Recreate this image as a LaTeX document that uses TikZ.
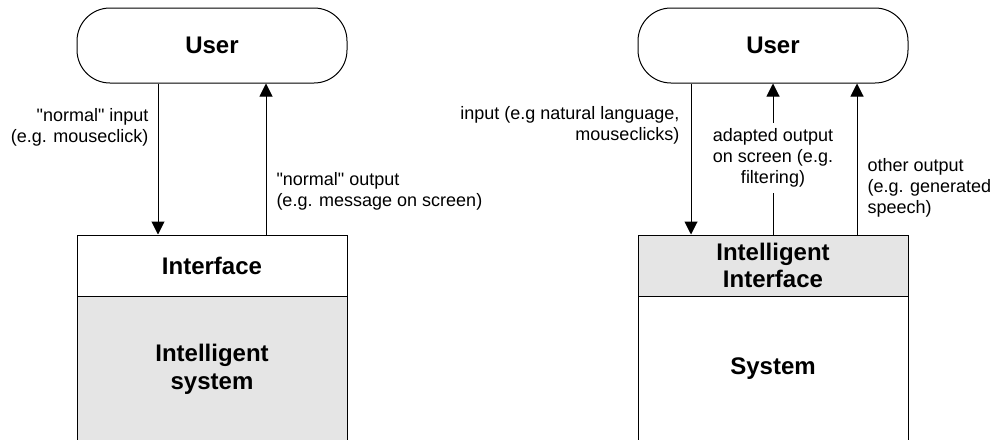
\documentclass[tikz,border=0pt]{standalone}
\usepackage{fontspec}
\setmainfont{Liberation Sans}
\usetikzlibrary{arrows.meta}
\tikzset{
  userbox/.style={draw,rounded corners=24.75pt,minimum width=202.5pt,minimum height=56.25pt,inner sep=0pt,font=\fontsize{18}{20.7}\selectfont\bfseries},
  topbox/.style={draw,minimum width=202.5pt,minimum height=45.75pt,inner sep=0pt,align=center,font=\fontsize{18}{20.7}\selectfont\bfseries},
  basebox/.style={draw,minimum width=202.5pt,minimum height=109.5pt,inner sep=0pt,align=center,font=\fontsize{18}{20.7}\selectfont\bfseries},
  lbl/.style={inner sep=0pt,font=\fontsize{13.5}{15.75}\selectfont},
  arr/.style={-{Triangle[width=9.75pt,length=9.75pt]}}
}
\begin{document}
\begin{tikzpicture}[x=0.75pt,y=-0.75pt,line width=0.75pt]
\path[use as bounding box,clip] (0,0) rectangle (992,439);
\node[userbox] (user1) at (212,45.5) {User};
\node[topbox] (iface1) at (212,265.5) {Interface};
\node[basebox,fill=black!10] (sys1) at (212,369) {Intelligent\\system};
\coordinate (in1) at (158,0);
\coordinate (out1) at (266,0);
\draw[arr] (in1 |- user1.south) -- (in1 |- iface1.north);
\draw[arr] (out1 |- iface1.north) -- (out1 |- user1.south);
\node[lbl,anchor=east,align=right] (inlbl1) at (149,127.5) {\textquotedbl normal\textquotedbl{} input\\(e.g. mouseclick)};
\node[lbl,anchor=west,align=left] (outlbl1) at (276,191) {\textquotedbl normal\textquotedbl{} output\\(e.g. message on screen)};
\node[userbox] (user2) at (773,45.5) {User};
\node[topbox,fill=black!10] (iface2) at (773,265.5) {Intelligent\\Interface};
\node[basebox] (sys2) at (773,369) {System};
\coordinate (in2) at (691,0);
\coordinate (out2) at (857,0);
\node[lbl,anchor=east,align=right] (inlbl2) at (680,125.5) {input (e.g natural language,\\mouseclicks)};
\node[lbl,align=center,inner ysep=4pt] (adapt) at (773,158) {adapted output\\on screen (e.g.\\filtering)};
\node[lbl,anchor=west,align=left] (outlbl2) at (867,188) {other output\\(e.g. generated\\speech)};
\draw[arr] (in2 |- user2.south) -- (in2 |- iface2.north);
\draw (iface2.north -| adapt) -- (adapt.south);
\draw[arr] (adapt.north) -- (user2.south -| adapt);
\draw[arr] (out2 |- iface2.north) -- (out2 |- user2.south);
\end{tikzpicture}
\end{document}
